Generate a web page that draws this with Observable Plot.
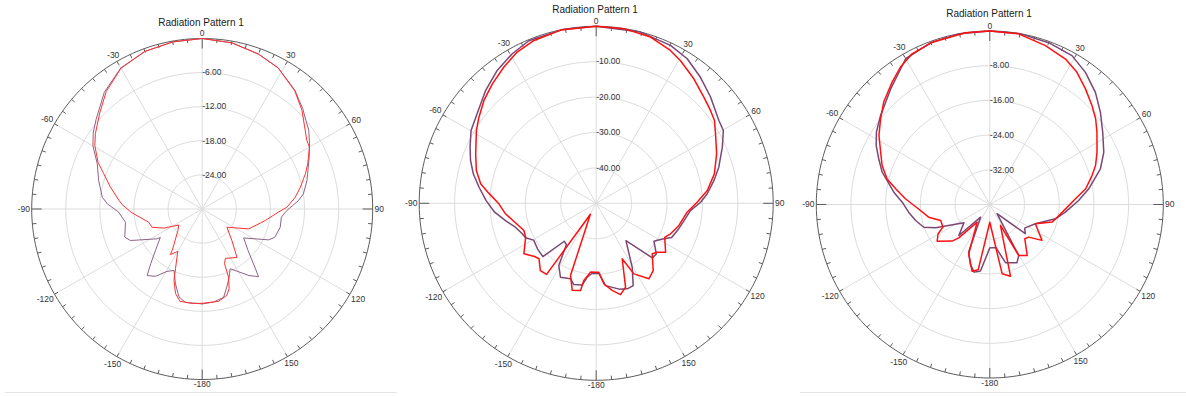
<!DOCTYPE html>
<html><head><meta charset="utf-8">
<script src="https://cdn.jsdelivr.net/npm/d3@7"></script>
<script src="https://cdn.jsdelivr.net/npm/@observablehq/plot@0.6"></script>
<style>
body{margin:0;background:#fff;}
#wrap{position:relative;width:1186px;height:396px;overflow:hidden;font-family:"Liberation Sans",Arial,sans-serif;background:#fff;}
#wrap svg{position:absolute;left:0;top:0;}
.title{position:absolute;font-size:10px;color:#1a1a1a;transform:translate(-50%,-50%);white-space:nowrap;}
.sep{position:absolute;height:1px;background:#e4e4e4;}
</style></head><body><div id="wrap"></div>
<script>
// ---------- data ----------
const angleTicks = [0, 30, 60, 90, 120, 150, 180, -150, -120, -90, -60, -30];
const angleTickLabels = ["0", "30", "60", "90", "120", "150", "-180", "-150", "-120", "-90", "-60", "-30"];
const titles = ["Radiation Pattern 1", "Radiation Pattern 1", "Radiation Pattern 1"];

const p1Rings = [-6, -12, -18, -24];
const p2Rings = [-10, -20, -30, -40];
const p3Rings = [-8, -16, -24, -32];

// Panel 1
const p1PurpleAngle = [-180,-169.8,-165.2,-160.4,-155.3,-150.6,-145.3,-140.4,-136.7,-131.6,-124.1,-123.5,-113.7,-110,-99.8,-92.2,-86.9,-83.3,-74.6,-66.7,-60,-55,-50,-40,-30,-20,-10,0,10,20,28.3,38,45,49.5,53.6,58.7,64.2,70,74.8,81.5,85,91,95.9,103.1,111.3,114.9,124.9,132.2,136.9,140.2,144.9,154.9,158.4,162.5,166.4,173.1,180];
const p1PurpleDb = [-13.3,-13.3,-14.0,-16.0,-18.1,-17.4,-15.6,-14.8,-16.8,-19.0,-21.1,-20.5,-16.2,-15.5,-16.3,-15.3,-13.3,-12.3,-11.1,-9.9,-7.8,-6.6,-5.6,-3.2,-1.35,-0.5,-0.15,0,-0.3,-1.0,-1.8,-3.5,-5.0,-6.0,-6.7,-7.9,-9.1,-10.2,-10.9,-12.0,-13.0,-15.1,-16.0,-15.9,-16.3,-17.1,-21.1,-19.1,-16.8,-14.5,-15.7,-18.4,-17.1,-15.6,-14.0,-13.5,-13.3];
const p1RedAngle = [-180,-174,-166.4,-162.5,-158.4,-155.9,-150,-145.1,-144.1,-131.5,-124.2,-116.6,-110,-103.9,-92.7,-86.8,-84.2,-76.6,-70.3,-65.8,-59.4,-54.8,-46.9,-39.2,-30,-20,-10,0,10.2,19.9,28.3,38.1,45.3,56.8,60,66.8,71.1,77.5,82.8,88.8,92.4,100.3,113.2,126.4,136.7,144.3,154.9,157.8,158.9,161.3,164.1,170,180];
const p1RedDb = [-13.4,-13.3,-13.3,-14.4,-16.5,-18.5,-21.4,-20.2,-21.0,-24.3,-25.0,-22.5,-20.6,-20.3,-17.5,-15.9,-15.3,-13.4,-11.6,-9.9,-8.05,-7.0,-5.3,-3.3,-1.4,-0.5,-0.15,0,-0.3,-1.0,-1.8,-3.6,-5.3,-8.0,-8.2,-9.8,-10.8,-12.3,-13.5,-15.1,-16.6,-18.7,-21.1,-24.6,-22.4,-19.5,-20.4,-19.6,-17.1,-15.2,-14.2,-13.5,-13.4];

// Panel 2
const p2PurpleAngle = [-180,-176.7,-173.1,-170.3,-164.6,-161.2,-154.2,-149,-144.2,-140,-135,-128,-120.5,-116,-112.4,-106.5,-101,-95,-88.6,-82.2,-76.5,-71.2,-66,-59.8,-53,-44.5,-36.7,-29.3,-22.5,-11,0,14.5,25.2,32.2,39.6,47.1,56,60.2,66,73.6,79,85.1,89.4,94.4,101.1,107.1,114.4,118.9,123.3,130.1,134.2,141.5,150.6,155.8,160,165,173.5,177.8,180];
const p2PurpleDb = [-30.2,-30.2,-29.0,-26.6,-26.2,-27.5,-26.8,-29.5,-35.6,-36.0,-28.7,-29.0,-29.5,-27.8,-27.4,-26.2,-24.0,-21.2,-18.9,-16.6,-14.3,-12.5,-11.0,-9.1,-7.9,-5.4,-3.2,-1.55,-0.3,-0.02,0,-0.05,-0.7,-1.75,-3.8,-5.9,-8.2,-8.6,-11.0,-13.9,-16.1,-18.5,-20.5,-23.3,-24.7,-25.6,-26.6,-29.0,-30.5,-27.8,-27.9,-36.5,-29.3,-24.5,-24.3,-24.9,-26.6,-30.2,-30.2];
const p2RedAngle = [-180,-175.3,-170.9,-169.8,-164.6,-160.4,-152,-145.1,-140.3,-134.1,-130.8,-124.9,-115.6,-110.6,-96.6,-90.3,-84.6,-80.4,-74.7,-67.7,-58.7,-53.7,-47.5,-41,-34.1,-27.6,-20.9,-11.6,0,9,18.1,25.9,30.6,38.1,45.4,50.9,55,59.8,67.6,76,83.4,89.4,95.6,105,112.3,116.4,125.2,128.7,132,139.7,145.1,151.9,154.9,160.7,165.1,169.6,174.5,177.8,180];
const p2RedDb = [-30.5,-30.5,-27.9,-25.0,-24.5,-28.4,-46.5,-25.5,-25.3,-27.5,-27.0,-25.1,-27.9,-28.2,-24.2,-22.5,-19.5,-16.9,-14.9,-13.2,-10.4,-8.9,-7.0,-5.3,-3.5,-1.8,-0.75,-0.05,0,-0.05,-0.6,-2.0,-3.2,-5.3,-7.3,-8.4,-9.2,-11.0,-13.2,-15.6,-18.4,-21.5,-24.2,-25.8,-27.3,-28.4,-26.0,-27.9,-28.7,-25.1,-24.0,-27.4,-32.7,-24.9,-23.3,-25.0,-27.1,-30.5,-30.5];

// Panel 3
const p3PurpleAngle = [-180,-172,-167,-162,-156,-144,-135,-125.2,-113.2,-109,-102.2,-95.4,-88.5,-82.7,-73.3,-67.6,-62.6,-57.5,-50.8,-40.6,-30,-20,-10,0,10,20,28.9,35.9,43.3,50.2,57.4,65.4,72.1,75.5,81,87.4,95.8,102.3,112.9,124.1,129.4,141.9,150.4,154.9,164.9,172,180];
const p3PurpleDb = [-30,-24.5,-24.0,-25.5,-28,-36.4,-29.9,-32.7,-26.4,-23.9,-22.5,-21.2,-19.8,-17.7,-14.1,-12.3,-10.5,-9.0,-7.5,-4.9,-1.2,-0.3,0,0,0,-0.3,-0.8,-2.4,-4.5,-6.8,-9.1,-11.1,-13.2,-14.8,-16.9,-19.5,-22.5,-24.5,-28.6,-30.3,-29.4,-37.3,-26.5,-25.2,-26.1,-30,-30];
const p3RedAngle = [-180,-169.9,-165.1,-156.9,-144.3,-137,-134.2,-124.9,-119.5,-115.8,-108,-101.7,-93.2,-86.1,-80.5,-76,-70.1,-64.4,-58.1,-51.9,-46,-38.6,-33,-27.3,-19.6,-8,0,9.6,19.3,27.5,33.4,39.6,45.9,51,56,64,69.7,74.2,80.7,86.2,93.3,100.7,105.8,112.9,124.5,130,134.4,143.8,150.4,153,163.9,169.9,180];
const p3RedDb = [-35.9,-24.7,-24.1,-27.6,-35.0,-29.5,-27.9,-25.2,-26.3,-28.0,-28.1,-25.6,-23.4,-20.5,-18.0,-15.6,-13.6,-12.1,-9.9,-8.0,-6.0,-3.9,-2.2,-0.9,-0.3,0,0,-0.1,-1.2,-2.2,-3.5,-5.4,-7.2,-8.6,-10.2,-12.5,-14.0,-15.5,-17.6,-20.2,-22.5,-24.2,-25.1,-28.6,-25.4,-28.3,-28.7,-25.4,-26.5,-34.6,-22.8,-23.8,-35.9];

// ---------- layout (pixels) ----------
const PURPLE = "#7b4874", RED = "#ff1010";
const panels = [
  {cx: 201.7, cy: 208.5, R: 170.5, min: -30, rings: p1Rings, title: [201, 22],
   series: [{a: p1PurpleAngle, v: p1PurpleDb, c: "#8f6287", w: 1}, {a: p1RedAngle, v: p1RedDb, c: "#ff3030", w: 1}]},
  {cx: 595.7, cy: 202.8, R: 177, min: -50, rings: p2Rings, title: [595, 8.5],
   series: [{a: p2PurpleAngle, v: p2PurpleDb, c: PURPLE, w: 1.5}, {a: p2RedAngle, v: p2RedDb, c: RED, w: 1.5}]},
  {cx: 989.3, cy: 204, R: 173.5, min: -40, rings: p3Rings, title: [989, 13],
   series: [{a: p3PurpleAngle, v: p3PurpleDb, c: PURPLE, w: 1.5}, {a: p3RedAngle, v: p3RedDb, c: RED, w: 1.5}]}
];

const wrap = document.getElementById("wrap");
const rad = a => a * Math.PI / 180;
const FS = 8.5;

function drawPanel(p, idx) {
  const span = -p.min, k = p.R / span;
  const circle = (r, z) => d3.range(0, 361, 2).map(a => ({x: r * Math.sin(rad(a)), y: r * Math.cos(rad(a)), z}));
  const ringPts = p.rings.flatMap(L => circle(L - p.min, L));
  const outer = circle(span, "outer");
  const spokes = d3.range(0, 360, 30);
  const ticks = d3.range(0, 360, 5);
  const tickLen = a => (a % 90 === 0 ? 10 : 4) / k;
  const labelR = (a, t) => {
    const w = FS * (0.556 * t.replace("-", "").length + (t.startsWith("-") ? 0.333 : 0));
    const h = FS * 0.72;
    return span + (1.8 + (w / 2) * Math.abs(Math.sin(rad(a))) + (h / 2) * Math.abs(Math.cos(rad(a)))) / k;
  };
  const lines = p.series.map(s => Plot.line(
    s.a.map((a, i) => ({a, r: Math.max(s.v[i] - p.min, 0)})),
    {x: d => d.r * Math.sin(rad(d.a)), y: d => d.r * Math.cos(rad(d.a)), stroke: s.c, strokeWidth: s.w, strokeLinejoin: "round"}
  ));
  const svg = Plot.plot({
    width: 1186, height: 396, margin: 0,
    style: {background: "none", fontFamily: "Liberation Sans, Arial, sans-serif", overflow: "visible"},
    x: {domain: [-span, span], range: [p.cx - p.R, p.cx + p.R], axis: null},
    y: {domain: [-span, span], range: [p.cy + p.R, p.cy - p.R], axis: null},
    marks: [
      Plot.line(ringPts, {x: "x", y: "y", z: "z", stroke: "#dcdcdc", strokeWidth: 1}),
      Plot.link(spokes, {x1: () => 0, y1: () => 0, x2: a => span * Math.sin(rad(a)), y2: a => span * Math.cos(rad(a)), stroke: "#dcdcdc", strokeWidth: 1}),
      Plot.line(outer, {x: "x", y: "y", stroke: "#5c5c5c", strokeWidth: 1}),
      Plot.link(ticks, {
        x1: a => span * Math.sin(rad(a)), y1: a => span * Math.cos(rad(a)),
        x2: a => (span - tickLen(a)) * Math.sin(rad(a)), y2: a => (span - tickLen(a)) * Math.cos(rad(a)),
        stroke: "#5c5c5c", strokeWidth: 1}),
      Plot.text(p.rings, {x: () => 0, y: d => d - p.min, text: d => d.toFixed(2), textAnchor: "start", fill: "#333", fontSize: FS}),
      Plot.text(angleTicks, {
        x: (a, i) => labelR(a, angleTickLabels[i]) * Math.sin(rad(a)),
        y: (a, i) => labelR(a, angleTickLabels[i]) * Math.cos(rad(a)),
        text: (a, i) => angleTickLabels[i], fill: "#333", fontSize: FS}),
      ...lines
    ]
  });
  wrap.appendChild(svg);
  const t = document.createElement("div");
  t.className = "title";
  t.textContent = titles[idx];
  t.style.left = p.title[0] + "px";
  t.style.top = p.title[1] + "px";
  wrap.appendChild(t);
}
panels.forEach(drawPanel);

// faint screenshot separators at the bottom
[[5, 392, 392], [800, 392, 386]].forEach(([x, y, w]) => {
  const s = document.createElement("div");
  s.className = "sep"; s.style.left = x + "px"; s.style.top = y + "px"; s.style.width = w + "px";
  wrap.appendChild(s);
});
</script></body></html>
